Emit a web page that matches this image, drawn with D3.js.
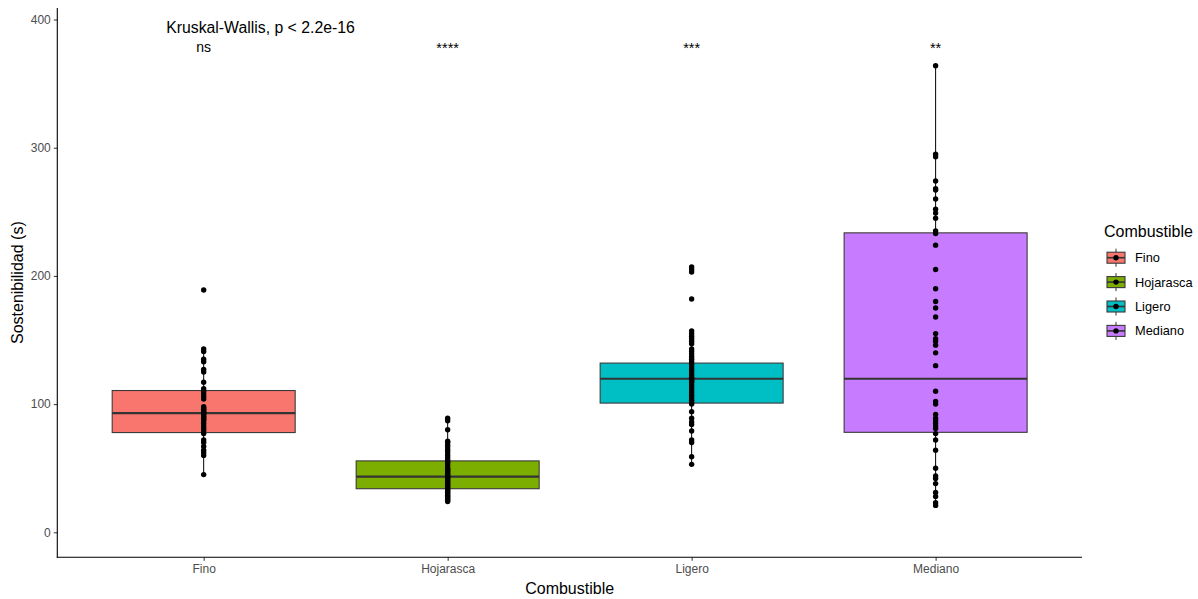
<!DOCTYPE html>
<html>
<head>
<meta charset="utf-8">
<script src="https://cdn.jsdelivr.net/npm/d3@7"></script>
<style>
  html, body { margin: 0; padding: 0; background: #fff; }
  svg { display: block; font-family: "Liberation Sans", Arial, sans-serif; }
</style>
</head>
<body>
<svg id="chart" width="1198" height="599"></svg>
<script>
const categories = ["Fino", "Hojarasca", "Ligero", "Mediano"];
const fillColors = ["#F8766D", "#7CAE00", "#00BFC4", "#C77CFF"];
const q1Values = [77.8, 34, 100.8, 78];
const medianValues = [93, 43.4, 119.8, 119.8];
const q3Values = [110.6, 55.7, 132, 233.6];
const whiskerLow = [45, 24, 53, 21];
const whiskerHigh = [143, 88, 157, 364];
const pointsFino = [189,143,141,135,133,127,125,117,112,110,108,106,104,98,97,96,95,94,93,92,91,90,89,88,87,85,83,81,79,77,72,70,67,64,62,60,45];
const pointsHojarasca = [89,87,80,71,70,68,66,64,62,60,58,56,55,54,52,50,49,48,47,46,45,44,43,42,41,40,39,38,37,36,35,34,33,32,31,30,29,28,27,26,25,24];
const pointsLigero = [207,205,203,182,157,155,153,151,149,147,143,141,139,137,135,133,131,129,127,125,123,121,120,119,118,117,115,113,111,109,107,105,103,101,100,94,89,86,84,79,72,70,59,53];
const pointsMediano = [364,295,293,274,268,267,260,252,249,245,235,233,224,205,190,180,175,168,155,151,149,146,140,130,110,102,100,92,89,87,85,83,81,77,72,64,50,44,42,38,31,28,23,21];
const yTicks = [0, 100, 200, 300, 400];
const signifLabels = ["ns", "****", "***", "**"];
const overallLabel = "Kruskal-Wallis, p < 2.2e-16";
const xTitle = "Combustible";
const yTitle = "Sostenibilidad (s)";
const legendTitle = "Combustible";

const allPoints = [pointsFino, pointsHojarasca, pointsLigero, pointsMediano];

const svg = d3.select("#chart");
const panel = { left: 57.3, right: 1082, top: 8, bottom: 557.3 };

const x = d3.scalePoint().domain(categories).range([panel.left, panel.right]).padding(0.6);
const step = x.step();
const boxW = step * 0.75;
const y = d3.scaleLinear().domain([-19.5, 409]).range([panel.bottom, panel.top]);

const data = categories.map((c, i) => ({
  cat: c, fill: fillColors[i], q1: q1Values[i], med: medianValues[i], q3: q3Values[i],
  lo: whiskerLow[i], hi: whiskerHigh[i], pts: allPoints[i], sig: signifLabels[i]
}));

const g = svg.append("g");

// whiskers
data.forEach(d => {
  const cx = x(d.cat);
  g.append("line").attr("x1", cx).attr("x2", cx).attr("y1", y(d.q3)).attr("y2", y(d.hi))
    .attr("stroke", "#000").attr("stroke-width", 1);
  g.append("line").attr("x1", cx).attr("x2", cx).attr("y1", y(d.q1)).attr("y2", y(d.lo))
    .attr("stroke", "#000").attr("stroke-width", 1);
});

// boxes
g.selectAll("rect.box").data(data).join("rect")
  .attr("class", "box")
  .attr("x", d => x(d.cat) - boxW / 2)
  .attr("width", boxW)
  .attr("y", d => y(d.q3))
  .attr("height", d => y(d.q1) - y(d.q3))
  .attr("fill", d => d.fill)
  .attr("stroke", "#3a3a3a")
  .attr("stroke-width", 1.1);

g.selectAll("line.median").data(data).join("line")
  .attr("class", "median")
  .attr("x1", d => x(d.cat) - boxW / 2)
  .attr("x2", d => x(d.cat) + boxW / 2)
  .attr("y1", d => y(d.med)).attr("y2", d => y(d.med))
  .attr("stroke", "#333").attr("stroke-width", 2.2);

// points
data.forEach(d => {
  g.selectAll(null).data(d.pts).join("circle")
    .attr("cx", x(d.cat))
    .attr("cy", v => y(v))
    .attr("r", 2.7)
    .attr("fill", "#000");
});

// axes
const yAxis = d3.axisLeft(y).tickValues(yTicks).tickSize(3.5).tickPadding(3);
const yg = svg.append("g").attr("transform", `translate(${panel.left},0)`).call(yAxis);
yg.select(".domain").remove();
yg.selectAll(".tick line").attr("stroke", "#333");
yg.selectAll(".tick text").attr("fill", "#4D4D4D").attr("font-size", 12).attr("font-family", "Liberation Sans, Arial, sans-serif");
svg.append("line").attr("x1", panel.left).attr("x2", panel.left).attr("y1", panel.top).attr("y2", panel.bottom + 0.5)
  .attr("stroke", "#000").attr("stroke-width", 1.1);

const xAxis = d3.axisBottom(x).tickSize(3.5).tickPadding(4);
const xg = svg.append("g").attr("transform", `translate(0,${panel.bottom})`).call(xAxis);
xg.select(".domain").remove();
xg.selectAll(".tick line").attr("stroke", "#333");
xg.selectAll(".tick text").attr("fill", "#4D4D4D").attr("font-size", 12).attr("font-family", "Liberation Sans, Arial, sans-serif");
svg.append("line").attr("x1", panel.left - 0.5).attr("x2", panel.right).attr("y1", panel.bottom).attr("y2", panel.bottom)
  .attr("stroke", "#000").attr("stroke-width", 1.1);

// axis titles
svg.append("text").attr("x", (panel.left + panel.right) / 2).attr("y", 594)
  .attr("text-anchor", "middle").attr("font-size", 16).attr("fill", "#000").text(xTitle);
svg.append("text").attr("transform", `translate(23,${(panel.top + panel.bottom) / 2}) rotate(-90)`)
  .attr("text-anchor", "middle").attr("font-size", 16).attr("fill", "#000").text(yTitle);

// annotations
svg.append("text").attr("x", x(categories[0]) - 37.5).attr("y", 33)
  .attr("font-size", 15.8).attr("fill", "#000").text(overallLabel);
svg.selectAll("text.sig").data(data).join("text")
  .attr("class", "sig")
  .attr("x", d => x(d.cat)).attr("y", d => d.sig === "ns" ? 51.5 : 53)
  .attr("text-anchor", "middle")
  .attr("font-size", d => d.sig === "ns" ? 14 : 14.5)
  .attr("fill", "#000").text(d => d.sig);

// legend
const lg = svg.append("g");
lg.append("text").attr("x", 1104).attr("y", 236.5).attr("font-size", 16).attr("fill", "#000").text(legendTitle);
data.forEach((d, i) => {
  const cy = 257.7 + i * 24.4;
  const kx = 1116;
  lg.append("line").attr("x1", kx).attr("x2", kx).attr("y1", cy - 9).attr("y2", cy + 9)
    .attr("stroke", "#333").attr("stroke-width", 1);
  lg.append("rect").attr("x", kx - 9).attr("y", cy - 5.5).attr("width", 18).attr("height", 11)
    .attr("fill", d.fill).attr("stroke", "#3a3a3a").attr("stroke-width", 1.1);
  lg.append("line").attr("x1", kx - 9).attr("x2", kx + 9).attr("y1", cy).attr("y2", cy)
    .attr("stroke", "#333").attr("stroke-width", 1.6);
  lg.append("circle").attr("cx", kx).attr("cy", cy).attr("r", 2.7).attr("fill", "#000");
  lg.append("text").attr("x", 1135).attr("y", cy + 4.5).attr("font-size", 12.8).attr("fill", "#000").text(d.cat);
});
</script>
</body>
</html>
